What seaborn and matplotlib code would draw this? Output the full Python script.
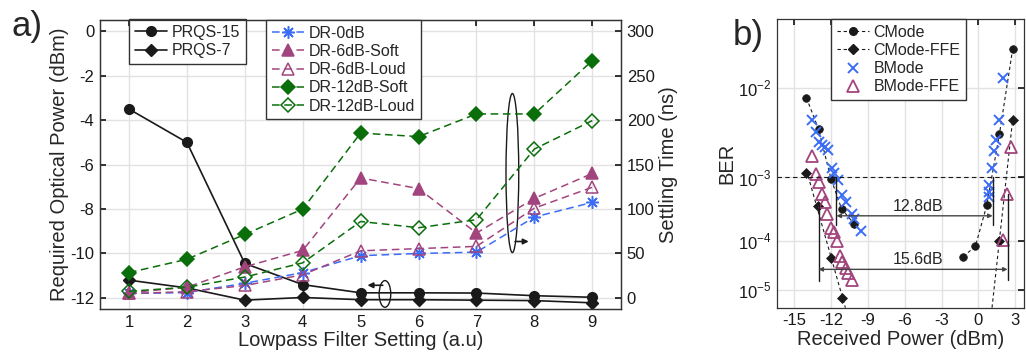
import numpy as np
import matplotlib
matplotlib.use("Agg")
import matplotlib.pyplot as plt
import seaborn as sns
from matplotlib.patches import Ellipse
from matplotlib.lines import Line2D

# a) lowpass filter sweep
setting = [1, 2, 3, 4, 5, 6, 7, 8, 9]
prqs15 = [-3.5, -5.0, -10.45, -11.4, -11.77, -11.77, -11.78, -11.9, -11.97]   # dBm
prqs7 = [-11.2, -11.55, -12.1, -11.98, -12.08, -12.08, -12.1, -12.12, -12.22]  # dBm
dr_0db = [5, 6, 16.5, 28.5, 47.5, 50, 51.5, 91, 107.5]                          # ns
dr_6db_soft = [6, 12, 35, 53.5, 135, 123, 73, 112, 140]
dr_6db_loud = [5, 7, 14, 26, 53, 55.5, 58, 101, 124.5]
dr_12db_soft = [28.5, 43.5, 71.5, 100, 185.5, 181.5, 207, 207, 267]
dr_12db_loud = [7.5, 12, 23.5, 39.5, 86, 79, 88, 167.5, 199.5]

# b) BER vs received power (left / right branch)
cmode_l_p = [-14.0, -13.02, -12.0, -11.13, -10.1]
cmode_l_ber = [8.1e-3, 3.9e-3, 9.5e-4, 3.4e-4, 1.95e-4]
cmode_r_p = [-1.23, -0.25, 0.67, 1.7, 2.78]
cmode_r_ber = [5e-5, 7.9e-5, 3.9e-4, 3.4e-3, 2.1e-2]
cffe_l_p = [-14.0, -13.08, -12.0, -11.07]
cffe_l_ber = [1.15e-3, 3.8e-4, 4.8e-5, 6.3e-6]
cffe_r_p = [1.7, 2.78]
cffe_r_ber = [1.0e-4, 4.9e-3]
bmode_p = [-13.51, -13.24, -13.02, -12.75, -12.48, -12.21, -11.94, -11.72, -11.45,
           -11.07, -10.8, -10.32, -10.1, -9.56,
           2.02, 1.64, 1.43, 1.23, 1.1, 0.89, 0.83, 0.89]
bmode_ber = [4.9e-3, 3.6e-3, 2.8e-3, 2.56e-3, 2.45e-3, 2.23e-3, 1.35e-3, 1.15e-3, 9.2e-4,
             5.6e-4, 4.4e-4, 2.9e-4, 2.4e-4, 1.5e-4,
             1.22e-2, 4.9e-3, 2.9e-3, 2.2e-3, 1.35e-3, 7.8e-4, 6.3e-4, 5.3e-4]
bffe_p = [-13.51, -13.24, -13.02, -12.75, -12.51, -12.29, -12.02, -11.75, -11.53,
          -11.29, -11.07, -10.8, -10.58, -10.32,
          2.65, 2.29, 2.02]
bffe_ber = [1.89e-3, 1.1e-3, 8.7e-4, 5.8e-4, 4.4e-4, 2.9e-4, 1.7e-4, 1.45e-4, 1.0e-4,
            5.1e-5, 4.0e-5, 3.0e-5, 2.3e-5, 1.65e-5,
            2.45e-3, 5.9e-4, 1.02e-4]

sns.set_theme(style="white")
plt.rcParams["font.family"] = ["Liberation Sans", "DejaVu Sans"]
plt.rcParams["axes.unicode_minus"] = False
plt.rcParams["mathtext.fontset"] = "custom"
plt.rcParams["mathtext.rm"] = "Liberation Sans"

BLUE = "#3b6cf6"
PLUM = "#a2457e"
GREEN = "#0a6e0a"
GRID = "#e2e2e2"
SPINE = "#333333"
TICK_FS = 12
LABEL_FS = 14.5
LEG_FS = 11.5

fig = plt.figure(figsize=(10.26, 3.54), dpi=100)

# ---------------- a)
ax = fig.add_axes([0.0975, 0.127, 0.508, 0.816])
ax2 = ax.twinx()

sns.lineplot(x=setting, y=prqs15, ax=ax, color="k", lw=1.2, marker="o", ms=7,
             mec="k", mew=1, estimator=None, sort=False, label="PRQS-15")
sns.lineplot(x=setting, y=prqs7, ax=ax, color="k", lw=1.2, marker="D", ms=6,
             mec="k", mew=1, estimator=None, sort=False, label="PRQS-7")

dash = (0, (5, 3))
dr_series = [
    (dr_0db, "DR-0dB", BLUE, (8, 2, 0), BLUE, 9),
    (dr_6db_soft, "DR-6dB-Soft", PLUM, "^", PLUM, 8),
    (dr_6db_loud, "DR-6dB-Loud", PLUM, "^", "none", 8),
    (dr_12db_soft, "DR-12dB-Soft", GREEN, "D", GREEN, 7),
    (dr_12db_loud, "DR-12dB-Loud", GREEN, "D", "none", 7),
]
for vals, name, col, mk, fc, size in dr_series:
    sns.lineplot(x=setting, y=vals, ax=ax2, color=col, lw=1.1, linestyle=dash,
                 marker=mk, ms=size, mfc=fc, mec=col, mew=1.1,
                 estimator=None, sort=False, label=name)

ax.set_xlim(0.5, 9.5)
ax.set_ylim(-12.5, 0.5)
ax2.set_ylim(-12.5, 312.5)
ax.set_xticks(setting)
ax.set_yticks(np.arange(-12, 1, 2))
ax2.set_yticks(np.arange(0, 301, 50))
ax.grid(True, color=GRID, lw=1)
ax.set_axisbelow(True)
ax.set_xlabel("Lowpass Filter Setting (a.u)", fontsize=LABEL_FS, labelpad=1)
ax.set_ylabel("Required Optical Power (dBm)", fontsize=LABEL_FS, labelpad=1)
ax2.set_ylabel("Settling Time (ns)", fontsize=LABEL_FS, labelpad=3)
for a in (ax, ax2):
    a.tick_params(direction="in", length=4, labelsize=TICK_FS, pad=4, colors="k")
    for s in a.spines.values():
        s.set_color(SPINE)
        s.set_linewidth(0.9)
ax.tick_params(top=True)

leg_kw = dict(fontsize=LEG_FS, frameon=True, fancybox=False, edgecolor=SPINE,
              framealpha=1, handlelength=2.0, handletextpad=0.3, borderpad=0.35,
              labelspacing=0.2, borderaxespad=0)
h1, l1 = ax.get_legend_handles_labels()
ax.legend(h1, l1, loc="upper left", bbox_to_anchor=(0.056, 1.003), **leg_kw)
h2, l2 = ax2.get_legend_handles_labels()
ax2.legend(h2, l2, loc="upper left", bbox_to_anchor=(0.319, 1.0), **leg_kw)

# ellipse + arrow markers pointing to the relevant axis
ax.add_patch(Ellipse((5.42, -11.82), 0.2, 1.2, fill=False, ec="k", lw=1))
ax.annotate("", xy=(5.07, -11.43), xytext=(5.43, -11.43),
            arrowprops=dict(arrowstyle="-|>", color="k", lw=1.2, mutation_scale=8))
ax2.add_patch(Ellipse((7.62, 140.5), 0.22, 179, fill=False, ec="k", lw=1))
ax2.annotate("", xy=(7.95, 63.5), xytext=(7.62, 63.5),
             arrowprops=dict(arrowstyle="-|>", color="k", lw=1.2, mutation_scale=8))

fig.text(0.026, 0.925, "a)", fontsize=25, ha="center", va="center")

# ---------------- b)
# BER axis drawn on a -log10(-log10(BER)) scale
def fwd(b):
    b = np.clip(np.asarray(b, dtype=float), 1e-300, 0.999999)
    return -np.log10(-np.log10(b))


def inv(f):
    return 10 ** (-(10 ** (-np.asarray(f, dtype=float))))


axb = fig.add_axes([0.7573, 0.1308, 0.2407, 0.8147])
axb.set_yscale("function", functions=(fwd, inv))
y_bot, y_top = 3.76e-6, 3.44e-2
axb.set_xlim(-16.4, 3.7)
axb.set_ylim(y_bot, y_top)

dash_b = (0, (3, 2.5))
for i, (p, b) in enumerate([(cmode_l_p, cmode_l_ber), (cmode_r_p, cmode_r_ber)]):
    sns.lineplot(x=p, y=b, ax=axb, color="k", lw=0.8, linestyle=dash_b, marker="o",
                 ms=5.5, mec="k", mew=0.5, estimator=None, sort=False, legend=False)

# FFE curves: straight fit in the scale's space, extended to the bottom
for i, (p, b) in enumerate([(cffe_l_p, cffe_l_ber), (cffe_r_p, cffe_r_ber)]):
    k, c = np.polyfit(p, fwd(b), 1)
    x_end = (fwd(y_bot) - c) / k
    xs = np.array([p[0], x_end]) if i == 0 else np.array([x_end, p[-1]])
    axb.plot(xs, inv(k * xs + c), color="k", lw=0.8, linestyle=dash_b)
    sns.lineplot(x=p, y=b, ax=axb, color="k", linestyle="none", marker="D",
                 ms=5, mec="k", mew=0.5, estimator=None, sort=False, legend=False)

sns.lineplot(x=bmode_p, y=bmode_ber, ax=axb, color=BLUE, linestyle="none", marker="x",
             ms=7, mec=BLUE, mew=1.4, estimator=None, sort=False, legend=False)
sns.lineplot(x=bffe_p, y=bffe_ber, ax=axb, color=PLUM, linestyle="none", marker="^",
             ms=8, mfc="none", mec=PLUM, mew=1.3, estimator=None, sort=False,
             legend=False)

axb.axhline(1e-3, color="k", lw=0.8, linestyle=(0, (4, 3)))

# power penalty markers
arrow_kw = dict(arrowstyle="<|-|>", color="#444444", lw=1, mutation_scale=6,
                shrinkA=0, shrinkB=0)
axb.plot([-11.56, -11.56], [1e-3, 1.9e-4], color="k", lw=1)
axb.plot([1.15, 1.15], [1e-3, 1.9e-4], color="k", lw=1)
axb.annotate("", xy=(-11.56, 2.67e-4), xytext=(1.15, 2.67e-4), arrowprops=arrow_kw)
axb.text(-4.9, 3.75e-4, "12.8dB", fontsize=LEG_FS, ha="center", va="center")
axb.plot([-13.02, -13.02], [4.2e-4, 1.56e-5], color="k", lw=1)
axb.plot([2.37, 2.37], [5.9e-4, 1.65e-5], color="k", lw=1)
axb.annotate("", xy=(-13.02, 2.77e-5), xytext=(2.37, 2.77e-5), arrowprops=arrow_kw)
axb.text(-4.9, 4.3e-5, "15.6dB", fontsize=LEG_FS, ha="center", va="center")

axb.set_xticks(np.arange(-15, 4, 3))
axb.set_yticks([1e-2, 1e-3, 1e-4, 1e-5])
axb.set_yticklabels([r"$10^{-2}$", r"$10^{-3}$", r"$10^{-4}$", r"$10^{-5}$"])
axb.yaxis.set_minor_locator(matplotlib.ticker.NullLocator())
axb.grid(True, color=GRID, lw=1)
axb.set_axisbelow(True)
axb.tick_params(direction="in", length=4, labelsize=TICK_FS, pad=4, top=True,
                right=True, colors="k")
for s in axb.spines.values():
    s.set_color(SPINE)
    s.set_linewidth(0.9)
axb.set_xlabel("Received Power (dBm)", fontsize=LABEL_FS, labelpad=1)
axb.set_ylabel("BER", fontsize=LABEL_FS, labelpad=1)

leg_h = [
    Line2D([], [], color="k", lw=0.8, linestyle=dash_b, marker="o", ms=5.5),
    Line2D([], [], color="k", lw=0.8, linestyle=dash_b, marker="D", ms=5),
    Line2D([], [], color=BLUE, linestyle="none", marker="x", ms=7, mew=1.4),
    Line2D([], [], color=PLUM, linestyle="none", marker="^", ms=8, mfc="none", mew=1.3),
]
axb.legend(leg_h, ["CMode", "CMode-FFE", "BMode", "BMode-FFE"], loc="upper left",
           bbox_to_anchor=(0.219, 1.0), **leg_kw)

fig.text(0.729, 0.901, "b)", fontsize=25, ha="center", va="center")

fig.savefig("out.png", dpi=100)
